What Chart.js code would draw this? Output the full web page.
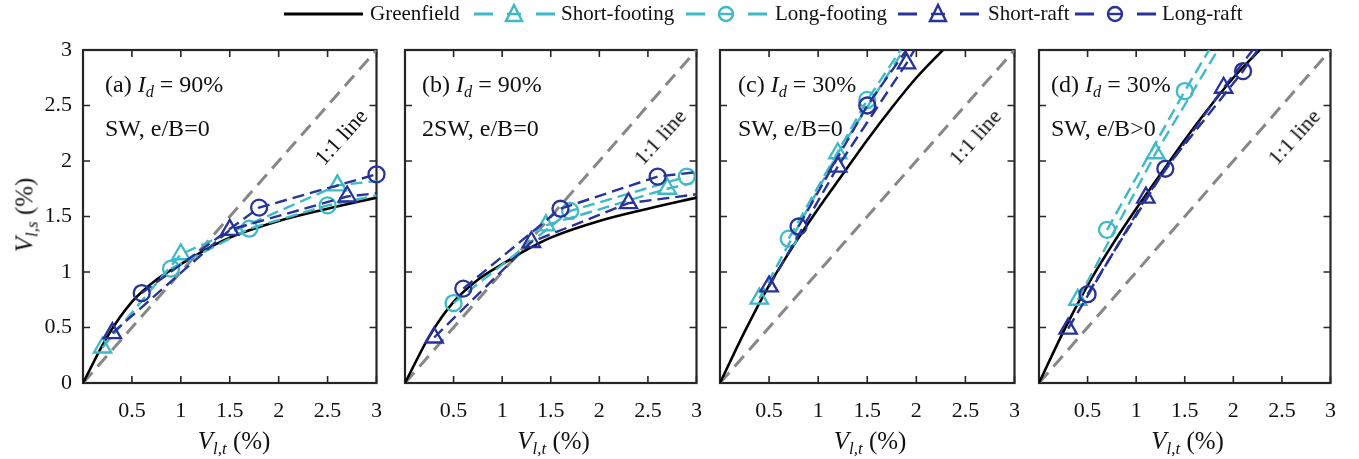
<!DOCTYPE html>
<html><head><meta charset="utf-8">
<script src="https://cdn.jsdelivr.net/npm/chart.js@4.4.1/dist/chart.umd.min.js"></script>
<style>
html,body{margin:0;padding:0;background:#fff;width:1359px;height:459px;overflow:hidden;font-family:"Liberation Serif","Times New Roman",serif;}
#wrap{position:relative;width:1359px;height:459px;}
canvas.cv{position:absolute;top:0;}
.txt{position:absolute;white-space:nowrap;color:#111;line-height:1;}
.txt sub{font-size:0.68em;vertical-align:-0.3em;font-style:italic;line-height:0;}
.ann{font-size:24px;}
.axt{font-size:25px;transform:translate(-50%,-50%);}
.lg{position:absolute;top:2px;}
.lgt{position:absolute;top:3px;font-size:21px;color:#111;white-space:nowrap;line-height:1;}
</style>
</head><body><div id="wrap"></div>
<script>
// ---------- data ----------
const xTickValues = [0, 0.5, 1, 1.5, 2, 2.5, 3];
const xTickLabels = ['', '0.5', '1', '1.5', '2', '2.5', '3'];
const yTickValues = [0, 0.5, 1, 1.5, 2, 2.5, 3];
const yTickLabels = ['0', '0.5', '1', '1.5', '2', '2.5', '3'];
const oneToOne = [[0, 0], [3, 3]];

// Greenfield curves
const green90 = [[0,0],[0.25,0.42],[0.5,0.73],[0.75,0.93],[1.0,1.07],[1.25,1.20],[1.5,1.31],[2.0,1.46],[2.5,1.57],[3.0,1.67]];
const green30 = [[0,0],[0.25,0.46],[0.5,0.88],[0.75,1.24],[1.0,1.57],[1.25,1.88],[1.5,2.19],[1.75,2.48],[2.0,2.75],[2.27,3.0]];

// Panel (a)
const aShortFooting = [[0.2,0.32],[1.0,1.16],[2.6,1.78]];  const aShortFootingEnd = [3.0,1.82];
const aLongFooting  = [[0.9,1.03],[1.7,1.39],[2.5,1.60]];  const aLongFootingEnd  = [3.0,1.69];
const aShortRaft    = [[0.3,0.45],[1.5,1.38],[2.7,1.68]];  const aShortRaftEnd    = [3.0,1.71];
const aLongRaft     = [[0.6,0.81],[1.8,1.58],[3.0,1.88]];  const aLongRaftEnd     = null;
// Panel (b)
const bShortFooting = [[1.45,1.42],[2.7,1.75]];            const bShortFootingEnd = [2.95,1.80];
const bLongFooting  = [[0.5,0.72],[1.7,1.55],[2.9,1.86]];  const bLongFootingEnd  = null;
const bShortRaft    = [[0.3,0.41],[1.3,1.27],[2.3,1.62]];  const bShortRaftEnd    = [3.0,1.70];
const bLongRaft     = [[0.6,0.85],[1.6,1.57],[2.6,1.86]];  const bLongRaftEnd     = [3.0,1.90];
// Panel (c)
const cShortFooting = [[0.4,0.76],[1.2,2.07]];             const cShortFootingEnd = [1.87,3.0];
const cLongFooting  = [[0.7,1.30],[1.5,2.55]];             const cLongFootingEnd  = [1.84,3.0];
const cShortRaft    = [[0.5,0.87],[1.2,1.95],[1.9,2.88]];  const cShortRaftEnd    = [1.98,3.0];
const cLongRaft     = [[0.8,1.41],[1.5,2.50]];             const cLongRaftEnd     = [1.9,3.0];
// Panel (d)
const dShortFooting = [[0.4,0.75],[1.2,2.07]];             const dShortFootingEnd = [1.84,3.0];
const dLongFooting  = [[0.7,1.38],[1.5,2.63]];             const dLongFootingEnd  = [1.75,3.0];
const dShortRaft    = [[0.3,0.49],[1.1,1.67],[1.9,2.66]];  const dShortRaftEnd    = [2.2,3.0];
const dLongRaft     = [[0.5,0.80],[1.3,1.93],[2.1,2.81]];  const dLongRaftEnd     = [2.25,3.0];

const panelTitles = ['(a)', '(b)', '(c)', '(d)'];
const panelId = ['90%', '90%', '30%', '30%'];
const panelCase = ['SW, e/B=0', '2SW, e/B=0', 'SW, e/B=0', 'SW, e/B>0'];
const legendNames = ['Greenfield', 'Short-footing', 'Long-footing', 'Short-raft', 'Long-raft'];

// ---------- styling / layout ----------
const CYAN = '#3db9c7', NAVY = '#27339a', AXC = '#262626';
const FONT = '"Liberation Serif","Times New Roman",serif';
const panelL = [83, 402, 717, 1036];
const panelR = [385, 705, 1023, 1339];
const panelTop = 50, panelBottom = 383;
const annOffset = [22, 20, 21, 15];

const wrap = document.getElementById('wrap');

const boxPlugin = {
  id: 'box',
  beforeDatasetsDraw(chart) {
    const {ctx, chartArea: a, scales: {x, y}} = chart;
    ctx.save();
    ctx.strokeStyle = AXC;
    ctx.lineWidth = 1.6;
    const tl = 7;
    ctx.beginPath();
    xTickValues.forEach(v => {
      const px = x.getPixelForValue(v);
      ctx.moveTo(px, a.bottom); ctx.lineTo(px, a.bottom - tl);
      ctx.moveTo(px, a.top); ctx.lineTo(px, a.top + tl);
    });
    yTickValues.forEach(v => {
      const py = y.getPixelForValue(v);
      ctx.moveTo(a.left, py); ctx.lineTo(a.left + tl, py);
      ctx.moveTo(a.right, py); ctx.lineTo(a.right - tl, py);
    });
    ctx.stroke();
    ctx.lineWidth = 2.2;
    ctx.strokeRect(a.left, a.top, a.right - a.left, a.bottom - a.top);
    ctx.restore();
  }
};

function toXY(arr) { return arr.map(p => ({x: p[0], y: p[1]})); }

function series(pts, end, color, style) {
  const data = toXY(pts);
  const r = style === 'triangle' ? 10 : 8;
  const radii = pts.map(() => r);
  if (end) { data.push({x: end[0], y: end[1]}); radii.push(0); }
  return {
    data, borderColor: color, backgroundColor: 'rgba(0,0,0,0)', borderWidth: 2.4,
    borderDash: [12, 6], pointStyle: style, pointRadius: radii, pointHoverRadius: radii,
    pointBorderWidth: 2.3, pointBorderColor: color, pointBackgroundColor: 'rgba(0,0,0,0)',
    fill: false, tension: 0, clip: false
  };
}

function makePanel(i, green, sf, sfE, lf, lfE, sr, srE, lr, lrE) {
  const L = panelL[i], R = panelR[i];
  const showY = i === 0;
  const cLeft = showY ? 0 : L - 12;
  const cWidth = (R + 12) - cLeft;
  const cv = document.createElement('canvas');
  cv.className = 'cv';
  cv.style.left = cLeft + 'px';
  cv.width = cWidth; cv.height = 459;
  cv.style.width = cWidth + 'px'; cv.style.height = '459px';
  wrap.appendChild(cv);

  const datasets = [
    series(lr, lrE, NAVY, 'circle'),
    series(sr, srE, NAVY, 'triangle'),
    series(lf, lfE, CYAN, 'circle'),
    series(sf, sfE, CYAN, 'triangle'),
    {data: toXY(green), borderColor: '#000', borderWidth: 2.6, pointRadius: 0, fill: false,
     cubicInterpolationMode: 'monotone'},
    {data: toXY(oneToOne), borderColor: '#878787', borderWidth: 3, borderDash: [14, 8], pointRadius: 0, fill: false}
  ];
  datasets.forEach((d, k) => d.order = k);

  new Chart(cv, {
    type: 'line',
    data: {datasets},
    options: {
      responsive: false, animation: false, devicePixelRatio: 1,
      layout: {padding: {top: panelTop, bottom: 0, left: showY ? 0 : (L - cLeft), right: (cLeft + cWidth) - R}},
      plugins: {legend: {display: false}, tooltip: {enabled: false}},
      events: [],
      scales: {
        x: {
          type: 'linear', min: 0, max: 3,
          afterFit(s) { s.height = 459 - panelBottom; },
          afterBuildTicks(s) { s.ticks = xTickValues.map(v => ({value: v})); },
          grid: {display: false, drawTicks: false}, border: {display: false},
          ticks: {padding: 15, color: '#111', font: {family: FONT, size: 22}, maxRotation: 0, autoSkip: false,
                  callback: (v, idx) => xTickLabels[idx]}
        },
        y: {
          type: 'linear', min: 0, max: 3, display: showY,
          afterFit(s) { if (showY) s.width = L; },
          afterBuildTicks(s) { s.ticks = yTickValues.map(v => ({value: v})); },
          grid: {display: false, drawTicks: false}, border: {display: false},
          ticks: {padding: 11, color: '#111', font: {family: FONT, size: 22}, autoSkip: false,
                  callback: (v, idx) => yTickLabels[idx]}
        }
      }
    },
    plugins: [boxPlugin]
  });

  // annotations (real text)
  const t1 = document.createElement('div');
  t1.className = 'txt ann';
  t1.style.left = (L + annOffset[i]) + 'px'; t1.style.top = '72px';
  t1.innerHTML = panelTitles[i] + ' <i>I</i><sub>d</sub> = ' + panelId[i];
  wrap.appendChild(t1);
  const t2 = document.createElement('div');
  t2.className = 'txt ann';
  t2.style.left = (L + annOffset[i]) + 'px'; t2.style.top = '116px';
  t2.textContent = panelCase[i];
  wrap.appendChild(t2);
  const t3 = document.createElement('div');
  t3.className = 'txt';
  t3.style.fontSize = '22px';
  t3.style.left = (L + 258) + 'px'; t3.style.top = '137px';
  t3.style.transform = 'translate(-50%,-50%) rotate(-48deg)';
  t3.textContent = '1:1 line';
  wrap.appendChild(t3);
  const t4 = document.createElement('div');
  t4.className = 'txt axt';
  t4.style.left = ((L + R) / 2) + 'px'; t4.style.top = '440px';
  t4.innerHTML = '<i>V</i><sub>l,t</sub> (%)';
  wrap.appendChild(t4);
}

makePanel(0, green90, aShortFooting, aShortFootingEnd, aLongFooting, aLongFootingEnd, aShortRaft, aShortRaftEnd, aLongRaft, aLongRaftEnd);
makePanel(1, green90, bShortFooting, bShortFootingEnd, bLongFooting, bLongFootingEnd, bShortRaft, bShortRaftEnd, bLongRaft, bLongRaftEnd);
makePanel(2, green30, cShortFooting, cShortFootingEnd, cLongFooting, cLongFootingEnd, cShortRaft, cShortRaftEnd, cLongRaft, cLongRaftEnd);
makePanel(3, green30, dShortFooting, dShortFootingEnd, dLongFooting, dLongFootingEnd, dShortRaft, dShortRaftEnd, dLongRaft, dLongRaftEnd);

// y-axis title
const yt = document.createElement('div');
yt.className = 'txt';
yt.style.fontSize = '25px';
yt.style.left = '24px'; yt.style.top = '215px';
yt.style.transform = 'translate(-50%,-50%) rotate(-90deg)';
yt.innerHTML = '<i>V</i><sub>l,s</sub> (%)';
wrap.appendChild(yt);

// legend (HTML + SVG samples)
const legendSampleX = [284, 474, 686, 898, 1075];
const legendTextX = [370, 561, 775, 988, 1162];
const legendColors = ['#000', CYAN, CYAN, NAVY, NAVY];
const legendMarks = [null, 'tri', 'circ', 'tri', 'circ'];
legendNames.forEach((name, k) => {
  const s = document.createElementNS('http://www.w3.org/2000/svg', 'svg');
  s.setAttribute('width', '82'); s.setAttribute('height', '24');
  s.setAttribute('class', 'lg');
  s.style.left = legendSampleX[k] + 'px';
  const c = legendColors[k];
  let inner = '';
  if (!legendMarks[k]) {
    inner = `<line x1="0" y1="12" x2="79" y2="12" stroke="${c}" stroke-width="3"/>`;
  } else {
    inner = `<line x1="0" y1="12" x2="19" y2="12" stroke="${c}" stroke-width="3"/>` +
            `<line x1="62" y1="12" x2="81" y2="12" stroke="${c}" stroke-width="3"/>`;
    if (legendMarks[k] === 'circ') {
      inner += `<circle cx="40" cy="12" r="7" fill="none" stroke="${c}" stroke-width="2.4"/>` +
               `<line x1="33" y1="12" x2="47" y2="12" stroke="${c}" stroke-width="2.4"/>`;
    } else {
      inner += `<polygon points="40,3 48,19 32,19" fill="none" stroke="${c}" stroke-width="2.4"/>` +
               `<line x1="33" y1="12" x2="47" y2="12" stroke="${c}" stroke-width="2.4"/>`;
    }
  }
  s.innerHTML = inner;
  wrap.appendChild(s);
  const t = document.createElement('div');
  t.className = 'lgt';
  t.style.left = legendTextX[k] + 'px';
  t.textContent = name;
  wrap.appendChild(t);
});
</script>
</body></html>
